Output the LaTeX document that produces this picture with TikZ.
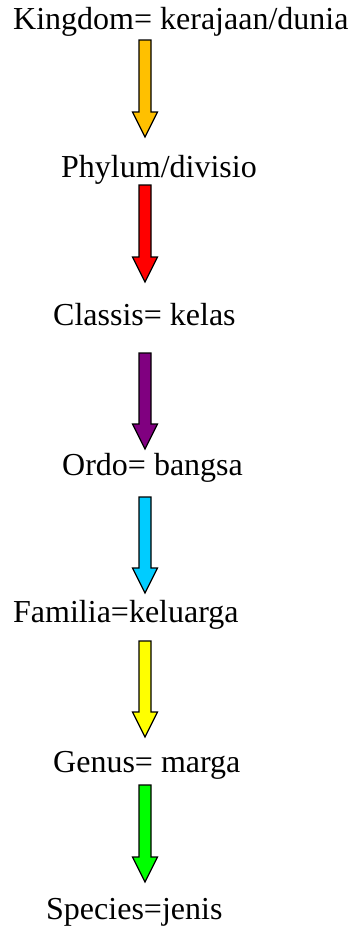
\documentclass[tikz,border=0pt]{standalone}
\usepackage{fontspec}
\setmainfont{Liberation Serif}
\usetikzlibrary{calc}
\definecolor{cGold}{HTML}{FFC000}
\definecolor{cRed}{HTML}{FF0000}
\definecolor{cPurple}{HTML}{800080}
\definecolor{cCyan}{HTML}{00CCFF}
\definecolor{cYellow}{HTML}{FFFF00}
\definecolor{cGreen}{HTML}{00FF00}
\newcommand{\blockarrow}[3]{%
  \path (#2) coordinate (bt) (#3) coordinate (bp);
  \draw[arrowbody,fill=#1] ($(bt)+(-6,0)$) -- ($(bt)+(6,0)$) -- ($(bp)+(6,-25)$) -- ($(bp)+(12.5,-25)$) -- (bp) -- ($(bp)+(-12.5,-25)$) -- ($(bp)+(-6,-25)$) -- cycle;}
\begin{document}
\begin{tikzpicture}[x=1pt,y=-1pt,
  label/.style={anchor=base west,inner sep=0pt,font=\fontsize{32}{38}\selectfont},
  arrowbody/.style={draw=black,line width=1.2pt,line join=miter}]
\useasboundingbox (0,0) rectangle (354,926);
\node[label] (k) at (13,29) {Kingdom= kerajaan/dunia};
\node[label] (p) at (61,177) {Phylum/divisio};
\node[label] (c) at (53,325) {Classis= kelas};
\node[label] (o) at (62,475) {Ordo= bangsa};
\node[label] (f) at (13,622) {Familia=keluarga};
\node[label] (g) at (53,772) {Genus= marga};
\node[label] (s) at (46,919) {Species=jenis};
\coordinate (a1t) at (145,40);  \coordinate (a1b) at (145,137);
\coordinate (a2t) at (145,185); \coordinate (a2b) at (145,282);
\coordinate (a3t) at (145,353); \coordinate (a3b) at (145,449);
\coordinate (a4t) at (145,497); \coordinate (a4b) at (145,593);
\coordinate (a5t) at (145,641); \coordinate (a5b) at (145,737);
\coordinate (a6t) at (145,785); \coordinate (a6b) at (145,882);
\blockarrow{cGold}{a1t}{a1b}
\blockarrow{cRed}{a2t}{a2b}
\blockarrow{cPurple}{a3t}{a3b}
\blockarrow{cCyan}{a4t}{a4b}
\blockarrow{cYellow}{a5t}{a5b}
\blockarrow{cGreen}{a6t}{a6b}
\end{tikzpicture}
\end{document}
